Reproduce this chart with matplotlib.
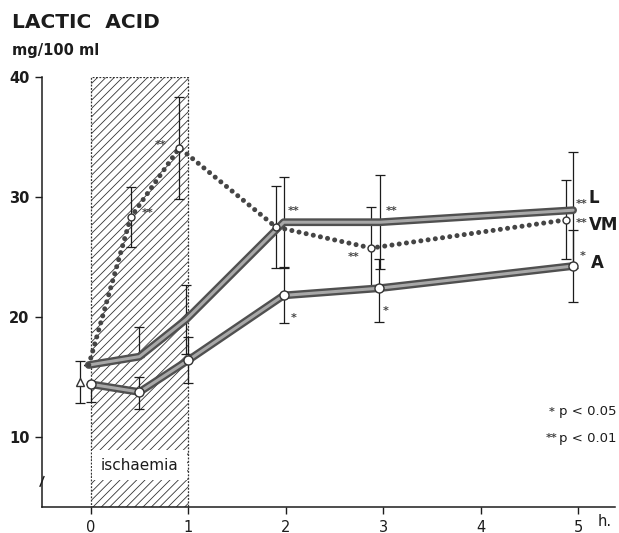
import matplotlib
matplotlib.use("Agg")
import matplotlib.pyplot as plt
from matplotlib.patches import Rectangle
import numpy as np

INK = "#1c1c1c"
RIBBON = "#505050"
RIBBON_IN = "#a8a8a8"
STAR = "#444444"

plt.rcParams.update({
    "font.family": ["DejaVu Sans"],
    "hatch.linewidth": 0.6,
    "hatch.color": "#a0a0a0",
})

# ---- data (hours, mg/100 ml) ----------------------------------------------
# points are drawn slightly staggered in time, as in the original
L_t  = [-0.02, 0.50, 0.98, 1.98, 2.97, 4.95]
L_v  = [16.0, 16.7, 19.8, 27.9, 27.9, 28.9]
L_lo = [0.0, 0.0, 2.9, 3.8, 3.9, 4.85]
L_hi = [0.0, 2.5, 2.9, 3.8, 3.9, 4.85]

VM_t  = [-0.02, 0.41, 0.91, 1.90, 2.88, 4.88]
VM_v  = [16.0, 28.3, 34.1, 27.5, 25.75, 28.1]
VM_lo = [0.0, 2.5, 4.25, 3.4, 3.4, 3.3]
VM_hi = [0.0, 2.5, 4.25, 3.4, 3.4, 3.3]

A_t  = [0.00, 0.50, 1.00, 1.98, 2.96, 4.95]
A_v  = [14.4, 13.75, 16.4, 21.8, 22.4, 24.25]
A_lo = [1.5, 1.4, 1.9, 2.3, 2.8, 3.0]
A_hi = [0.0, 1.25, 1.9, 2.4, 2.4, 3.0]

CTRL_t, CTRL_v, CTRL_e = -0.11, 14.6, 1.75

# significance marks: (time, value, text)
SIG_t = [0.58, 0.72, 2.08, 3.09, 2.70, 2.08, 3.03]
SIG_v = [28.7, 34.3, 28.8, 28.8, 25.0, 19.9, 20.5]
SIG_s = ["**", "**", "**", "**", "**", "*", "*"]

YTICKS = [10, 20, 30, 40]
XTICKS = [0, 1, 2, 3, 4, 5]

fig = plt.figure(figsize=(6.19, 5.33), dpi=100)
ax = fig.add_axes([42/619, 26/533, 573/619, 430/533])
ax.set_xlim(-0.5, 5.38)
ax.set_ylim(4.17, 40)

# ischaemia period
ax.add_patch(Rectangle((0, 4.17), 1, 40 - 4.17, fc="white", ec="#333333",
                       hatch="////", ls=(0, (1.5, 1.2)), lw=0.9, zorder=1))
ax.add_patch(Rectangle((0.01, 6.4), 0.98, 2.5, fc="white", ec="none", zorder=1.5))
ax.text(0.5, 7.6, "ischaemia", ha="center", va="center", fontsize=11,
        color=INK, zorder=2)

# error bars
eb = dict(fmt="none", ecolor=INK, elinewidth=0.9, capsize=3.5, capthick=0.9, zorder=3)
ax.errorbar(L_t, L_v, yerr=[L_lo, L_hi], **eb)
ax.errorbar(VM_t, VM_v, yerr=[VM_lo, VM_hi], **eb)
ax.errorbar(A_t, A_v, yerr=[A_lo, A_hi], **eb)
ax.errorbar([CTRL_t], [CTRL_v], yerr=[[CTRL_e], [CTRL_e]], **eb)

# ribbon lines L and A
for t, v in ((A_t, A_v), (L_t, L_v)):
    ax.plot(t, v, color=RIBBON, lw=5.6, solid_capstyle="round",
            solid_joinstyle="round", zorder=4)
    ax.plot(t, v, color=RIBBON_IN, lw=2.2, solid_capstyle="round",
            solid_joinstyle="round", zorder=4.1)

# beaded VM line
ax.plot(VM_t, VM_v, color="#454545", lw=3.6, ls=(0, (0.01, 1.45)),
        dash_capstyle="round", zorder=4.2)

# open markers
ax.plot(A_t, A_v, "o", ms=6.5, mfc="white", mec="#333333", mew=1.0, zorder=5)
ax.plot(VM_t[1:], VM_v[1:], "o", ms=5, mfc="white", mec="#333333", mew=1.0, zorder=5)
ax.plot([CTRL_t], [CTRL_v], "^", ms=6, mfc="white", mec="#333333", mew=1.0, zorder=5)

for t, v, s in zip(SIG_t, SIG_v, SIG_s):
    ax.text(t, v, s, ha="center", va="center", fontsize=8, fontweight="bold",
            color=STAR, zorder=6)

# curve labels at the right end
lab = dict(ha="left", va="center", fontsize=12, fontweight="bold", color=INK)
star = dict(ha="center", va="center", fontsize=8, fontweight="bold", color=STAR)
ax.text(5.04, 29.4, "**", **star)
ax.text(5.11, 29.9, "L", **lab)
ax.text(5.04, 27.8, "**", **star)
ax.text(5.11, 27.7, "VM", **lab)
ax.text(5.05, 25.1, "*", **star)
ax.text(5.13, 24.5, "A", **lab)

# significance key
ax.text(4.73, 12.1, "*", **star)
ax.text(4.81, 12.1, "p < 0.05", ha="left", va="center", fontsize=9.5, color=INK)
ax.text(4.73, 9.9, "**", **star)
ax.text(4.81, 9.9, "p < 0.01", ha="left", va="center", fontsize=9.5, color=INK)

# axes styling
for s in ("top", "right"):
    ax.spines[s].set_visible(False)
ax.spines["left"].set_bounds(4.17, 40)
ax.spines["left"].set_color(INK)
ax.spines["bottom"].set_color(INK)
ax.spines["left"].set_linewidth(1.1)
ax.spines["bottom"].set_linewidth(1.1)
ax.set_yticks(YTICKS)
ax.set_yticklabels([str(v) for v in YTICKS], fontsize=10.5, fontweight="bold", color=INK)
ax.set_xticks(XTICKS)
ax.set_xticklabels([str(v) for v in XTICKS], fontsize=10.5, color=INK)
ax.tick_params(axis="both", direction="out", length=5, width=1.0, color=INK, pad=4)
ax.text(5.2, 2.95, "h.", ha="left", va="center", fontsize=10.5, color=INK, clip_on=False)

# axis break mark
ax.plot([-0.52, -0.48], [5.9, 6.7], color=INK, lw=1.0, clip_on=False, zorder=6)

fig.text(12/619, 1 - 23/533, "LACTIC  ACID", ha="left", va="center",
         fontsize=14.5, fontweight="bold", color=INK)
fig.text(12/619, 1 - 50/533, "mg/100 ml", ha="left", va="center",
         fontsize=10.5, fontweight="bold", color=INK)

fig.savefig("out.png", dpi=100)
